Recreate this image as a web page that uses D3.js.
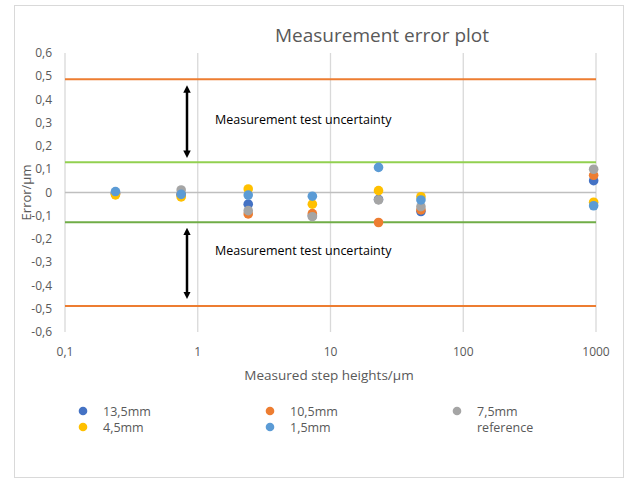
<!DOCTYPE html>
<html>
<head>
<meta charset="utf-8">
<script src="https://cdn.jsdelivr.net/npm/d3@7"></script>
<style>
  body { margin: 0; background: #fff; }
  svg { font-family: "Open Sans", "Noto Sans", sans-serif; }
</style>
</head>
<body>
<svg id="chart" width="625" height="479"></svg>
<script>
// step heights (µm) per measurement
const heights = [0.24, 0.75, 2.4, 7.3, 23, 48, 960];

// errors (µm) per probe length
const err13_5 = [-0.005, -0.01, -0.05, -0.1, -0.03, -0.082, 0.051];
const err10_5 = [-0.005, -0.01, -0.092, -0.091, -0.129, -0.075, 0.074];
const err7_5 = [-0.002, 0.011, -0.078, -0.104, -0.032, -0.061, 0.1];
const err4_5 = [-0.01, -0.019, 0.015, -0.05, 0.008, -0.018, -0.042];
const err1_5 = [0.004, -0.008, -0.011, -0.016, 0.108, -0.032, -0.057];

const seriesNames = ['13,5mm', '10,5mm', '7,5mm', '4,5mm', '1,5mm'];
const seriesColors = ['#4472c4', '#ed7d31', '#a5a5a5', '#ffc000', '#5b9bd5'];
const seriesValues = [err13_5, err10_5, err7_5, err4_5, err1_5];

// reference limits
const outerLimits = [0.487, -0.488];
const innerLimits = [0.13, -0.128];

const xTicks = [0.1, 1, 10, 100, 1000];
const yTicks = [0.6, 0.5, 0.4, 0.3, 0.2, 0.1, 0, -0.1, -0.2, -0.3, -0.4, -0.5, -0.6];

const svg = d3.select('#chart');

// outer frame
svg.append('rect')
  .attr('x', 14.5).attr('y', 5.5)
  .attr('width', 609).attr('height', 472)
  .attr('fill', 'none')
  .attr('stroke', '#d9d9d9');

const x = d3.scaleLog().domain([0.1, 1000]).range([65, 596]);
const y = d3.scaleLinear().domain([-0.6, 0.6]).range([332, 53]);

// vertical gridlines
svg.append('g')
  .selectAll('line')
  .data(xTicks)
  .join('line')
  .attr('x1', d => x(d)).attr('x2', d => x(d))
  .attr('y1', y(0.6)).attr('y2', y(-0.6))
  .attr('stroke', '#d9d9d9')
  .attr('stroke-width', 1.3);

// zero line
svg.append('line')
  .attr('x1', x(0.1)).attr('x2', x(1000))
  .attr('y1', y(0)).attr('y2', y(0))
  .attr('stroke', '#bfbfbf')
  .attr('stroke-width', 1.3);

// limit lines
svg.append('g')
  .selectAll('line')
  .data(outerLimits)
  .join('line')
  .attr('x1', x(0.1)).attr('x2', x(1000))
  .attr('y1', d => y(d)).attr('y2', d => y(d))
  .attr('stroke', '#ed7d31')
  .attr('stroke-width', 2);

svg.append('g')
  .selectAll('line')
  .data(innerLimits)
  .join('line')
  .attr('x1', x(0.1)).attr('x2', x(1000))
  .attr('y1', d => y(d)).attr('y2', d => y(d))
  .attr('stroke', (d, i) => i === 0 ? '#92d050' : '#70ad47')
  .attr('stroke-width', 2);

// axis labels
svg.append('g')
  .selectAll('text')
  .data(yTicks)
  .join('text')
  .attr('x', 52)
  .attr('y', d => y(d) + 4)
  .attr('text-anchor', 'end')
  .attr('fill', '#595959')
  .attr('font-size', 12)
  .text(d => d3.format('.1f')(d).replace('.', ',').replace('0,0', '0').replace('−', '-'));

svg.append('g')
  .selectAll('text')
  .data(xTicks)
  .join('text')
  .attr('x', d => x(d))
  .attr('y', 356)
  .attr('text-anchor', 'middle')
  .attr('fill', '#595959')
  .attr('font-size', 12)
  .text(d => String(d).replace('.', ','));

svg.append('text')
  .attr('x', 329).attr('y', 380)
  .attr('text-anchor', 'middle')
  .attr('fill', '#595959')
  .attr('font-size', 13.5)
  .text('Measured step heights/µm');

svg.append('text')
  .attr('transform', `translate(31,${y(0)}) rotate(-90)`)
  .attr('text-anchor', 'middle')
  .attr('fill', '#595959')
  .attr('font-size', 13)
  .text('Error/µm');

svg.append('text')
  .attr('x', 382).attr('y', 42)
  .attr('text-anchor', 'middle')
  .attr('fill', '#595959')
  .attr('font-size', 19)
  .text('Measurement error plot');

// uncertainty arrows
const defs = svg.append('defs');
defs.append('marker')
  .attr('id', 'head')
  .attr('viewBox', '0 0 10 10')
  .attr('refX', 5).attr('refY', 5)
  .attr('markerWidth', 3).attr('markerHeight', 3)
  .attr('orient', 'auto-start-reverse')
  .append('path')
  .attr('d', 'M0,0L10,5L0,10z')
  .attr('fill', '#000');

const arrows = [[0.458, 0.152], [-0.155, -0.455]];
svg.append('g')
  .selectAll('line')
  .data(arrows)
  .join('line')
  .attr('x1', 187).attr('x2', 187)
  .attr('y1', d => y(d[0]) + 3).attr('y2', d => y(d[1]) - 3)
  .attr('stroke', '#000')
  .attr('stroke-width', 2.5)
  .attr('marker-start', 'url(#head)')
  .attr('marker-end', 'url(#head)');

svg.append('g')
  .selectAll('text')
  .data([0.31, -0.25])
  .join('text')
  .attr('x', 215)
  .attr('y', d => y(d) + 4)
  .attr('font-size', 12.5)
  .attr('fill', '#000')
  .text('Measurement test uncertainty');

// points
seriesValues.forEach((vals, i) => {
  svg.append('g')
    .selectAll('circle')
    .data(vals)
    .join('circle')
    .attr('cx', (d, j) => x(heights[j]))
    .attr('cy', d => y(d))
    .attr('r', 4.8)
    .attr('fill', seriesColors[i]);
});

// legend
const legendItems = seriesNames.map((n, i) => ({ name: n, color: seriesColors[i] }))
  .concat([{ name: 'reference', color: null }]);
const legendPos = [[83, 411], [270, 411], [457, 411], [83, 427], [270, 427], [457, 427]];
const legendOrder = [0, 1, 2, 3, 4, 5];

const leg = svg.append('g')
  .selectAll('g')
  .data(legendOrder)
  .join('g')
  .attr('transform', k => `translate(${legendPos[k][0]},${legendPos[k][1]})`);

leg.filter(k => legendItems[k].color)
  .append('circle')
  .attr('r', 4.3)
  .attr('fill', k => legendItems[k].color);

leg.append('text')
  .attr('x', 20)
  .attr('y', 4.5)
  .attr('fill', '#595959')
  .attr('font-size', 12.5)
  .text(k => legendItems[k].name);
</script>
</body>
</html>
